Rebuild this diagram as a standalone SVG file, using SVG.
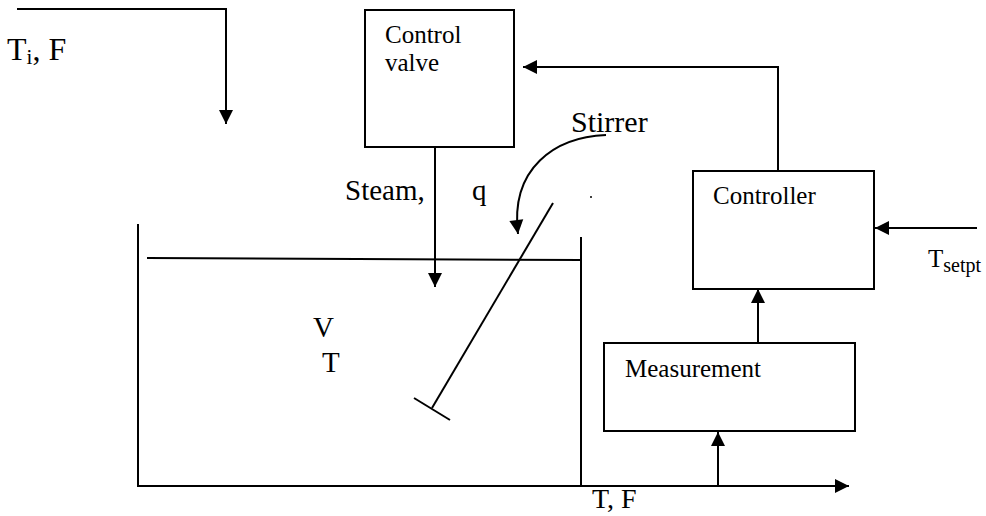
<svg xmlns="http://www.w3.org/2000/svg" width="986" height="516" viewBox="0 0 986 516">
<style>
  .ln { fill: none; stroke: #000; stroke-width: 2; }
  .box { fill: #fff; stroke: #000; stroke-width: 2; }
  .t { font-family: "Liberation Serif", "Times New Roman", serif; fill: #000; }
</style>
<defs>
  <marker id="ah" viewBox="-1 -8 16 16" markerWidth="16" markerHeight="16" refX="14" refY="0" orient="auto" markerUnits="userSpaceOnUse">
    <path d="M0,-7 L14,0 L0,7 z" fill="#000"/>
  </marker>
</defs>
<rect width="986" height="516" fill="#fff"/>

<g id="tank">
  <path class="ln" d="M138,224 V486 H581 V237"/>
  <line class="ln" x1="147" y1="258" x2="581" y2="260"/>
  <text class="t" x="313" y="337" font-size="29">V</text>
  <text class="t" x="322" y="372" font-size="29">T</text>
</g>

<g id="stirrer">
  <line class="ln" x1="553" y1="203" x2="432" y2="408"/>
  <line class="ln" x1="414" y1="398" x2="450" y2="420"/>
  <text class="t" x="571" y="132" font-size="30">Stirrer</text>
  <circle cx="591" cy="197" r="1" fill="#000"/>
</g>

<g id="control-valve">
  <rect class="box" x="365" y="10" width="149" height="137"/>
  <text class="t" x="385" y="43" font-size="25">Control</text>
  <text class="t" x="385" y="71" font-size="25">valve</text>
</g>

<g id="controller">
  <rect class="box" x="693" y="171" width="181" height="118"/>
  <text class="t" x="713" y="204" font-size="25">Controller</text>
</g>

<g id="measurement">
  <rect class="box" x="604" y="343" width="251" height="88"/>
  <text class="t" x="625" y="377" font-size="25">Measurement</text>
</g>

<g id="connectors">
  <path class="ln" d="M17,9 H226 V124" marker-end="url(#ah)"/>
  <path class="ln" d="M435,147 V287" marker-end="url(#ah)"/>
  <path class="ln" d="M778,171 V67 H523" marker-end="url(#ah)"/>
  <path class="ln" d="M977,228 H875" marker-end="url(#ah)"/>
  <path class="ln" d="M758,343 V289" marker-end="url(#ah)"/>
  <path class="ln" d="M581,486 H849" marker-end="url(#ah)"/>
  <path class="ln" d="M718,486 V432" marker-end="url(#ah)"/>
  <path class="ln" d="M606,135 C555,137 510,168 518,234" marker-end="url(#ah)"/>
</g>

<g id="labels">
  <text class="t" x="7" y="60" font-size="32">T<tspan font-size="21" dy="4">i</tspan><tspan dy="-4">, F</tspan></text>
  <text class="t" x="345" y="200" font-size="29">Steam,</text>
  <text class="t" x="472" y="200" font-size="29">q</text>
  <text class="t" x="592" y="508" font-size="28">T, F</text>
  <text class="t" x="928" y="267" font-size="25">T<tspan font-size="20" dy="5">setpt</tspan></text>
</g>
</svg>
